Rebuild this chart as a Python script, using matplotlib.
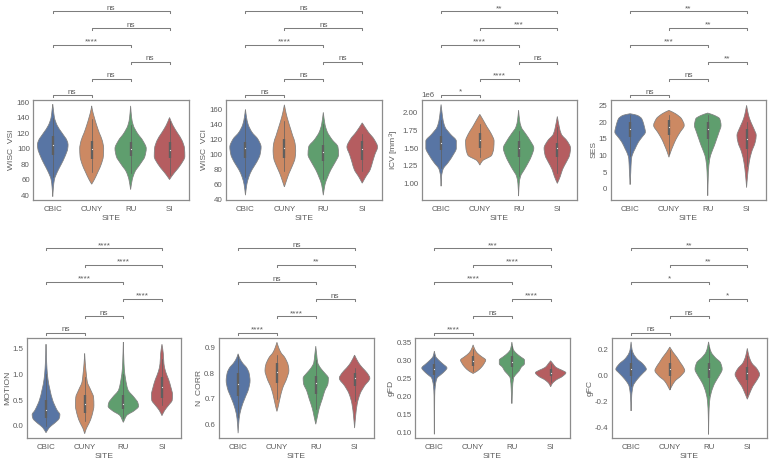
import numpy as np
import matplotlib
matplotlib.use('Agg')
import matplotlib.pyplot as plt
from matplotlib.path import Path
from matplotlib.patches import PathPatch

plt.rcParams['font.family'] = ['Liberation Sans', 'DejaVu Sans']
plt.rcParams['mathtext.default'] = 'regular'

sites = ['CBIC', 'CUNY', 'RU', 'SI']
colors = ['#5875a4', '#cc8963', '#5f9e6e', '#b55d60']
pairs = [(0, 1), (1, 2), (2, 3), (0, 2), (1, 3), (0, 3)]

### one entry per site: (values, density, (median, q1, q3, low whisker, high whisker))
wisc_vsi = [
    ([38, 50, 60, 70, 80, 90, 100, 105, 110, 120, 130, 140, 150, 157], [0, 2, 5, 14, 26, 37, 45, 46, 43, 28, 13, 5, 2, 0], (105, 92, 116, 63, 140)),
    ([54, 60, 70, 80, 90, 100, 110, 120, 130, 140, 150, 155], [0, 8, 19, 29, 35, 36, 32, 23, 15, 8, 2, 0], (100, 86, 110, 70, 138)),
    ([47, 60, 70, 80, 90, 100, 110, 120, 130, 140, 155], [0, 5, 13, 29, 43, 47, 37, 20, 8, 3, 0], (99, 90, 108, 68, 130)),
    ([60, 65, 70, 80, 90, 100, 110, 120, 130, 140], [0, 8, 17, 35, 46, 45, 38, 24, 10, 0], (98, 88, 108, 66, 135)),
]
wisc_vci = [
    ([46, 60, 70, 80, 90, 100, 110, 120, 130, 140, 150, 160], [0, 4, 10, 20, 34, 44, 47, 38, 19, 8, 3, 0], (108, 95, 117, 70, 148)),
    ([57, 65, 75, 85, 95, 105, 115, 125, 135, 145, 155, 166], [0, 6, 14, 24, 32, 34, 32, 25, 18, 11, 5, 0], (108, 96, 120, 78, 145)),
    ([46, 60, 70, 80, 90, 100, 110, 120, 130, 140, 156], [0, 5, 13, 23, 36, 46, 44, 26, 12, 5, 0], (103, 92, 113, 68, 140)),
    ([62, 70, 80, 90, 100, 110, 120, 130, 142], [0, 10, 24, 31, 38, 46, 36, 18, 0], (107, 93, 118, 78, 127)),
]
icv = [
    ([0.96, 1.1, 1.2, 1.3, 1.4, 1.5, 1.6, 1.7, 1.8, 1.9, 2.0, 2.12], [0, 1.5, 6, 22, 36, 46, 46, 28, 12, 6, 3, 0], (1.57, 1.47, 1.67, 1.22, 1.9)),
    ([1.26, 1.32, 1.4, 1.5, 1.6, 1.7, 1.8, 1.9, 1.98], [0, 8, 36, 42, 43, 35, 22, 10, 0], (1.62, 1.50, 1.72, 1.38, 1.85)),
    ([0.82, 1.0, 1.1, 1.2, 1.3, 1.4, 1.5, 1.6, 1.7, 1.8, 1.9, 2.04], [0, 2, 6, 18, 30, 40, 46, 36, 22, 8, 3, 0], (1.50, 1.38, 1.60, 1.1, 1.75)),
    ([1.0, 1.1, 1.2, 1.3, 1.4, 1.5, 1.6, 1.7, 1.8, 1.95], [0, 9, 16, 27, 37, 40, 30, 12, 6, 0], (1.50, 1.37, 1.58, 1.15, 1.8)),
]
ses = [
    ([1.3, 5, 9, 10.5, 12, 14, 15.5, 17, 19, 21, 22, 22.5], [0, 2, 4, 8, 15, 25, 36, 46, 42, 35, 22, 0], (18, 15.5, 20, 10, 22)),
    ([9.5, 11, 13, 15, 17, 19, 21, 22.5, 23.5], [0, 5, 13, 22, 34, 46, 38, 20, 0], (18.5, 16, 20.5, 10.5, 22)),
    ([-2, 5, 9, 11, 13, 15, 17, 19, 21, 22, 22.7], [0, 2, 6, 12, 20, 27, 34, 40, 36, 20, 0], (18, 15, 20, 9, 22)),
    ([0.4, 4, 8, 11, 14, 16, 18, 20, 22, 25], [0, 3, 8, 15, 26, 29, 22, 13, 6, 0], (15, 12, 18, 7, 20)),
]
motion = [
    ([-0.13, -0.03, 0.05, 0.15, 0.22, 0.3, 0.5, 0.7, 0.9, 1.1, 1.3, 1.58], [0, 10, 25, 40, 42, 34, 20, 12, 6, 3, 1.5, 0], (0.3, 0.15, 0.5, 0, 1.0)),
    ([-0.15, -0.05, 0.05, 0.2, 0.4, 0.55, 0.7, 0.85, 1.0, 1.2, 1.4], [0, 5, 13, 22, 28, 27, 18, 8, 5, 2, 0], (0.43, 0.25, 0.6, 0.1, 0.95)),
    ([0.07, 0.2, 0.3, 0.38, 0.45, 0.55, 0.7, 0.9, 1.1, 1.3, 1.62], [0, 10, 34, 46, 44, 33, 14, 7, 3, 1.5, 0], (0.43, 0.32, 0.6, 0.15, 1.0)),
    ([0.2, 0.3, 0.4, 0.5, 0.6, 0.75, 0.9, 1.05, 1.2, 1.4, 1.58], [0, 8, 20, 31, 32, 27, 20, 11, 6, 4, 0], (0.75, 0.55, 0.95, 0.4, 1.3)),
]
n_corr = [
    ([0.565, 0.62, 0.66, 0.7, 0.74, 0.77, 0.8, 0.82, 0.84, 0.86, 0.875], [0, 3, 9, 20, 32, 36, 33, 26, 13, 4, 0], (0.757, 0.71, 0.8, 0.63, 0.87)),
    ([0.65, 0.67, 0.7, 0.74, 0.78, 0.81, 0.83, 0.86, 0.88, 0.9, 0.92], [0, 4, 9, 17, 30, 36, 34, 24, 12, 5, 0], (0.805, 0.76, 0.84, 0.70, 0.87)),
    ([0.6, 0.63, 0.66, 0.7, 0.73, 0.76, 0.78, 0.8, 0.82, 0.84, 0.87, 0.905], [0, 5, 10, 20, 27, 37, 38, 27, 14, 6, 3, 0], (0.762, 0.72, 0.79, 0.66, 0.85)),
    ([0.585, 0.63, 0.68, 0.72, 0.75, 0.78, 0.8, 0.82, 0.84, 0.87], [0, 3, 8, 17, 30, 46, 38, 24, 12, 0], (0.78, 0.75, 0.8, 0.69, 0.82)),
]
gfd = [
    ([0.095, 0.2, 0.23, 0.25, 0.26, 0.27, 0.278, 0.29, 0.3, 0.31, 0.325], [0.3, 1, 3, 8, 20, 32, 38, 25, 13, 4, 0], (0.275, 0.26, 0.29, 0.23, 0.315)),
    ([0.263, 0.27, 0.28, 0.29, 0.3, 0.31, 0.32, 0.33, 0.342], [0, 13, 25, 33, 38, 25, 12, 5, 0], (0.298, 0.285, 0.31, 0.27, 0.33)),
    ([0.18, 0.22, 0.25, 0.26, 0.27, 0.28, 0.29, 0.3, 0.31, 0.32, 0.33, 0.35], [0.5, 2, 5, 12, 22, 28, 38, 38, 25, 12, 4, 0], (0.295, 0.28, 0.31, 0.25, 0.34)),
    ([0.226, 0.235, 0.245, 0.255, 0.265, 0.272, 0.28, 0.29, 0.298], [0, 5, 17, 36, 46, 34, 16, 7, 0], (0.265, 0.255, 0.275, 0.24, 0.29)),
]
gfc = [
    ([-0.27, -0.15, -0.08, -0.03, 0.02, 0.05, 0.09, 0.13, 0.17, 0.2, 0.26], [0, 2, 6, 18, 36, 46, 36, 18, 7, 3, 0], (0.055, 0.0, 0.1, -0.08, 0.2)),
    ([-0.11, -0.08, -0.04, 0, 0.04, 0.07, 0.1, 0.14, 0.18, 0.22], [0, 6, 16, 34, 45, 40, 32, 22, 10, 0], (0.05, 0.0, 0.1, -0.1, 0.2)),
    ([-0.45, -0.3, -0.2, -0.13, -0.06, 0, 0.05, 0.1, 0.14, 0.18, 0.22, 0.26], [0, 1, 3, 8, 18, 32, 41, 36, 20, 8, 3, 0], (0.05, -0.02, 0.1, -0.15, 0.22)),
    ([-0.18, -0.13, -0.08, -0.03, 0.01, 0.05, 0.1, 0.15, 0.21], [0, 8, 17, 30, 37, 30, 13, 5, 0], (0.02, -0.03, 0.07, -0.15, 0.15)),
]

sig_vsi = ['ns', 'ns', 'ns', '****', 'ns', 'ns']
sig_vci = ['ns', 'ns', 'ns', '****', 'ns', 'ns']
sig_icv = ['*', '****', 'ns', '****', '***', '**']
sig_ses = ['ns', 'ns', '**', '***', '**', '**']
sig_motion = ['ns', 'ns', '****', '****', '****', '****']
sig_ncorr = ['****', '****', 'ns', 'ns', '**', 'ns']
sig_gfd = ['****', 'ns', '****', '****', '****', '***']
sig_gfc = ['ns', 'ns', '*', '*', '**', '**']

ticks_vsi = [40, 60, 80, 100, 120, 140, 160]
ticks_vci = [40, 60, 80, 100, 120, 140, 160]
ticks_icv = [1.0, 1.25, 1.5, 1.75, 2.0]
ticks_ses = [0, 5, 10, 15, 20, 25]
ticks_motion = [0.0, 0.5, 1.0, 1.5]
ticks_ncorr = [0.6, 0.7, 0.8, 0.9]
ticks_gfd = [0.10, 0.15, 0.20, 0.25, 0.30, 0.35]
ticks_gfc = [-0.4, -0.2, 0.0, 0.2]

W, H = 770, 462
TEXT = '#5c5c5c'
EDGE = '#808080'
INNER = '#5f5f5f'
DENS_SCALE = 1 / 117
LEVELS = [1.05, 1.212, 1.383, 1.553, 1.72, 1.887]
TIP = 0.02

### panel: pixel box, data, stats, ylabel, ticks, tick format, ylim
panels = [
    ((33.3, 100, 189, 200), wisc_vsi, sig_vsi, 'WISC  VSI', ticks_vsi, '%d', (33.6, 162.6)),
    ((226, 100, 381.7, 200), wisc_vci, sig_vci, 'WISC  VCI', ticks_vci, '%d', (39.6, 172.4)),
    ((421.7, 100, 576.7, 200), icv, sig_icv, 'ICV [mm$^3$]', ticks_icv, '%.2f', (0.764, 2.184)),
    ((610.7, 100, 766, 200), ses, sig_ses, 'SES', ticks_ses, '%d', (-3.3, 26.6)),
    ((26.7, 337.7, 181.3, 438.3), motion, sig_motion, 'MOTION', ticks_motion, '%.1f', (-0.238, 1.706)),
    ((218.7, 337.7, 374, 438.3), n_corr, sig_ncorr, 'N  CORR', ticks_ncorr, '%.1f', (0.545, 0.938)),
    ((415, 337.7, 570, 438.3), gfd, sig_gfd, 'gFD', ticks_gfd, '%.2f', (0.0834, 0.362)),
    ((611.7, 337.7, 766.7, 438.3), gfc, sig_gfc, 'gFC', ticks_gfc, '%.1f', (-0.48, 0.292)),
]


def outline_segments(vals, half):
    # bezier control points through the read points, flat at peaks so nothing overshoots
    h = np.diff(vals)
    sec = np.diff(half) / h
    m = np.zeros(len(vals))
    m[0], m[-1] = sec[0], sec[-1]
    for i in range(1, len(vals) - 1):
        if sec[i - 1] * sec[i] > 0:
            m[i] = 2 * sec[i - 1] * sec[i] / (sec[i - 1] + sec[i])
    segs = []
    for i in range(len(h)):
        c1 = (vals[i] + h[i] / 3, max(half[i] + m[i] * h[i] / 3, 0))
        c2 = (vals[i + 1] - h[i] / 3, max(half[i + 1] - m[i + 1] * h[i] / 3, 0))
        segs.append((c1, c2))
    return segs


def draw_violin(ax, pos, site_data, color):
    vals = np.array(site_data[0], dtype=float)
    half = np.array(site_data[1], dtype=float) * DENS_SCALE
    med, q1, q3, low, high = site_data[2]
    segs = outline_segments(vals, half)
    verts = [(pos + half[0], vals[0])]
    for i, (c1, c2) in enumerate(segs):
        verts += [(pos + c1[1], c1[0]), (pos + c2[1], c2[0]), (pos + half[i + 1], vals[i + 1])]
    for i in range(len(segs) - 1, -1, -1):
        c1, c2 = segs[i]
        verts += [(pos - c2[1], c2[0]), (pos - c1[1], c1[0]), (pos - half[i], vals[i])]
    codes = [Path.MOVETO] + [Path.CURVE4] * (len(verts) - 1) + [Path.CLOSEPOLY]
    verts.append(verts[0])
    ax.add_patch(PathPatch(Path(verts, codes), facecolor=color, edgecolor=EDGE, linewidth=0.55, zorder=2))
    ax.plot([pos, pos], [low, high], color=INNER, lw=0.5, zorder=3)
    ax.plot([pos, pos], [q1, q3], color=INNER, lw=1.7, solid_capstyle='butt', zorder=3)
    ax.plot(pos, med, 'o', color='#e8e8e8', ms=0.9, mew=0, zorder=4)


def draw_brackets(ax, labels):
    trans = ax.get_xaxis_transform()
    for (a, b), level, label in zip(pairs, LEVELS, labels):
        ax.plot([a, a, b, b], [level - TIP, level, level, level - TIP], color='#7d7d7d', lw=0.75,
                transform=trans, clip_on=False)
        ax.annotate(label, xy=((a + b) / 2, level), xycoords=trans, xytext=(0, 1.0), textcoords='offset points',
                    ha='center', va='baseline', fontsize=5.9, color=TEXT)


fig = plt.figure(figsize=(W / 100, H / 100), dpi=100, facecolor='white')

for box, data, labels, ylabel, ticks, fmt, ylim in panels:
    x0, y0, x1, y1 = box
    ax = fig.add_axes([x0 / W, 1 - y1 / H, (x1 - x0) / W, (y1 - y0) / H])
    for i in range(len(sites)):
        draw_violin(ax, i, data[i], colors[i])
    draw_brackets(ax, labels)
    ax.set_xlim(-0.5, 3.5)
    ax.set_ylim(*ylim)
    ax.set_xticks(range(len(sites)))
    ax.set_xticklabels(sites)
    ax.set_yticks(ticks)
    ax.set_yticklabels([fmt % t for t in ticks])
    ax.tick_params(axis='y', length=0, pad=2.5, labelsize=5.7, labelcolor=TEXT)
    ax.tick_params(axis='x', length=0, pad=4.3, labelsize=5.7, labelcolor=TEXT)
    ax.set_xlabel('SITE', fontsize=6.1, color=TEXT, labelpad=1.2)
    ax.set_ylabel(ylabel, fontsize=6.1, color=TEXT, labelpad=1)
    for s in ax.spines.values():
        s.set_color('#8c8c8c')
        s.set_linewidth(0.9)
    if data is icv:
        ax.text(0, 1.01, '1e6', transform=ax.transAxes, fontsize=5.7, color=TEXT, va='bottom')

fig.savefig('out.png', dpi=100)
